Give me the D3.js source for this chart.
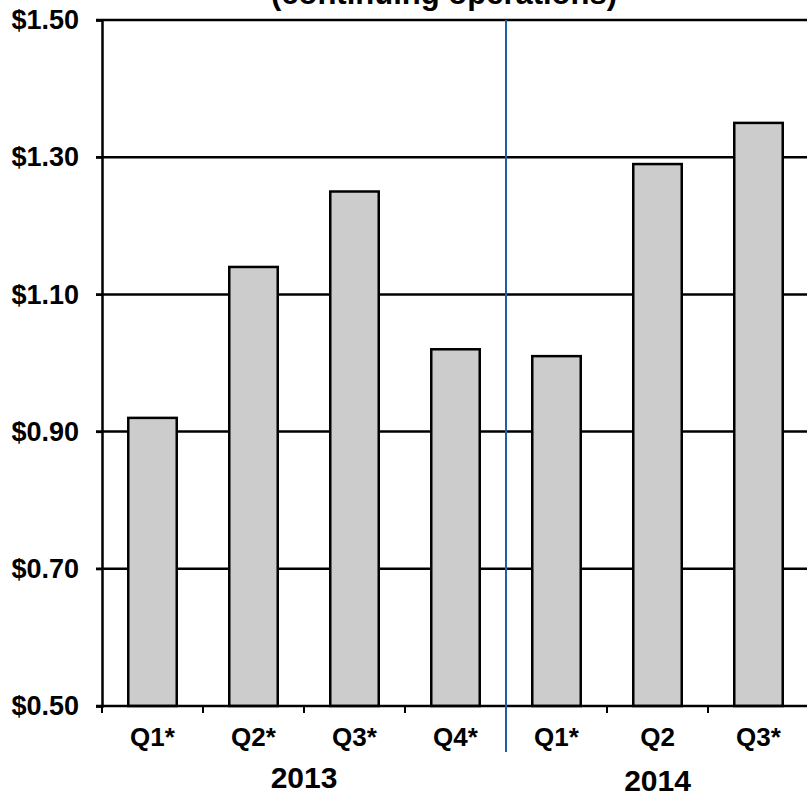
<!DOCTYPE html>
<html>
<head>
<meta charset="utf-8">
<script src="https://cdn.jsdelivr.net/npm/d3@7"></script>
<style>
  html, body { margin: 0; padding: 0; background: #fff; overflow: hidden; }
  text { font-family: "Liberation Sans", Arial, sans-serif; font-weight: bold; fill: #000; }
</style>
</head>
<body>
<div id="chart"></div>
<script>
// dados
const quarters = ["Q1*", "Q2*", "Q3*", "Q4*", "Q1*", "Q2", "Q3*"];
const years = ["2013", "2013", "2013", "2013", "2014", "2014", "2014"];
const eps = [0.92, 1.14, 1.25, 1.02, 1.01, 1.29, 1.35];
const yTicks = [0.50, 0.70, 0.90, 1.10, 1.30, 1.50];
const yearLabels = ["2013", "2014"];

const width = 807, height = 793;
const plotLeft = 102, plotRight = 809, plotTop = 20, plotBottom = 706;

const keys = d3.range(quarters.length);
const x = d3.scaleBand(keys, [plotLeft, plotRight]).paddingInner(0.52).paddingOuter(0.26);
const y = d3.scaleLinear([0.5, 1.5], [plotBottom, plotTop]);
const step = (plotRight - plotLeft) / quarters.length;

const svg = d3.select("#chart").append("svg")
    .attr("width", width)
    .attr("height", height);

// titulo (cortado no topo, como no original)
svg.append("text")
    .attr("x", 444).attr("y", 4)
    .attr("text-anchor", "middle")
    .style("font-size", "31px")
    .text("(continuing operations)");

// grelha horizontal
svg.append("g").selectAll("line")
    .data(yTicks.slice(1))
    .join("line")
    .attr("x1", plotLeft - 6).attr("x2", width)
    .attr("y1", d => y(d)).attr("y2", d => y(d))
    .attr("stroke", "#000").attr("stroke-width", 2.5);

// eixo y
const yAxis = svg.append("g")
    .attr("transform", `translate(${plotLeft},0)`)
    .call(d3.axisLeft(y).tickValues(yTicks).tickSize(6).tickPadding(17)
        .tickFormat(d => "$" + d.toFixed(2)));
yAxis.attr("font-family", null).attr("font-size", null);
yAxis.select(".domain").attr("stroke-width", 2.5);
yAxis.selectAll(".tick line").attr("stroke-width", 2);
yAxis.selectAll(".tick text").style("font-size", "27px");

// barras
svg.append("g").selectAll("rect")
    .data(eps)
    .join("rect")
    .attr("x", (d, i) => x(i))
    .attr("y", d => y(d))
    .attr("width", x.bandwidth())
    .attr("height", d => y(0.5) - y(d))
    .attr("fill", "#cccccc")
    .attr("stroke", "#000")
    .attr("stroke-width", 2.5);

// eixo x
svg.append("line")
    .attr("x1", plotLeft - 6).attr("x2", width)
    .attr("y1", plotBottom).attr("y2", plotBottom)
    .attr("stroke", "#000").attr("stroke-width", 2.5);
svg.append("g").selectAll("line")
    .data(d3.range(quarters.length))
    .join("line")
    .attr("x1", i => plotLeft + i * step).attr("x2", i => plotLeft + i * step)
    .attr("y1", plotBottom).attr("y2", plotBottom + 7)
    .attr("stroke", "#000").attr("stroke-width", 2);

svg.append("g").selectAll("text")
    .data(quarters)
    .join("text")
    .attr("x", (d, i) => x(i) + x.bandwidth() / 2)
    .attr("y", 746)
    .attr("text-anchor", "middle")
    .style("font-size", "26px")
    .text(d => d);

// rótulos de ano, centrados nos seus trimestres
const yearGroups = d3.group(keys, i => years[i]);
svg.append("g").selectAll("text")
    .data(yearLabels)
    .join("text")
    .attr("x", yr => {
        const idx = yearGroups.get(yr);
        return (x(idx[0]) + x(idx[idx.length - 1]) + x.bandwidth()) / 2;
    })
    .attr("y", (yr, i) => i === 0 ? 788 : 791)
    .attr("text-anchor", "middle")
    .style("font-size", "30px")
    .text(d => d);

// separador azul entre anos
const sepX = plotLeft + 4 * step;
svg.append("line")
    .attr("x1", sepX).attr("x2", sepX)
    .attr("y1", plotTop).attr("y2", 752)
    .attr("stroke", "#1f5fa8").attr("stroke-width", 2);
</script>
</body>
</html>
